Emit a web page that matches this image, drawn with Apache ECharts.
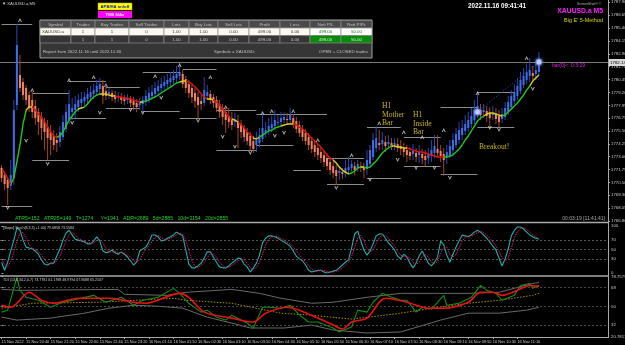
<!DOCTYPE html>
<html><head><meta charset="utf-8">
<script src="https://cdn.jsdelivr.net/npm/echarts@6/dist/echarts.min.js"></script>
<style>html,body{margin:0;padding:0;background:#000;}#c{width:625px;height:345px;}</style>
</head><body><div id="c"></div>
<script>
// ---------- DATA ----------
// Heiken-Ashi style candles: [open, close, low, high]
const candles = [
[1771.91,1770.94,1770.56,1772.20],[1771.23,1770.36,1769.78,1771.52],[1770.75,1769.98,1768.34,1770.94],[1770.17,1771.23,1769.78,1772.68],
[1770.94,1777.50,1770.27,1778.47],[1777.99,1783.78,1777.50,1785.80],[1780.88,1779.63,1779.24,1782.81],[1780.21,1778.95,1778.47,1780.59],
[1779.63,1778.47,1777.99,1779.92],[1778.95,1777.70,1777.31,1779.24],[1778.47,1777.31,1776.73,1779.24],[1777.89,1776.73,1776.06,1778.47],
[1777.31,1776.35,1775.09,1777.70],[1776.83,1775.77,1774.61,1777.31],[1776.35,1775.38,1773.64,1776.73],[1775.86,1774.80,1772.68,1776.54],
[1775.38,1774.61,1773.16,1776.06],[1775.00,1774.13,1773.64,1775.57],[1774.61,1774.32,1773.45,1775.29],[1774.42,1775.38,1773.93,1775.96],
[1774.90,1776.35,1774.61,1777.02],[1775.67,1777.31,1775.38,1778.08],[1776.54,1778.08,1776.15,1779.43],[1777.31,1777.70,1776.54,1778.66],
[1777.50,1778.08,1776.73,1778.86],[1777.79,1778.47,1777.31,1779.05],[1778.18,1778.57,1777.70,1779.24],[1778.37,1778.76,1777.89,1779.24],
[1778.57,1779.05,1778.18,1779.63],[1778.76,1779.24,1778.37,1779.82],[1779.05,1779.43,1778.57,1780.01],[1779.24,1779.82,1778.86,1780.40],
[1779.53,1780.01,1779.05,1780.59],[1779.82,1778.86,1778.08,1780.40],[1779.34,1778.86,1778.47,1779.82],[1779.05,1779.24,1778.57,1779.63],
[1779.15,1778.76,1778.37,1779.43],[1778.95,1778.57,1778.18,1779.34],[1778.76,1778.86,1778.28,1779.24],[1778.76,1778.47,1778.08,1779.15],
[1778.66,1778.37,1777.99,1778.95],[1778.47,1778.66,1778.08,1779.05],[1778.57,1778.18,1777.79,1778.86],[1778.37,1777.99,1777.50,1778.76],
[1778.18,1777.79,1777.31,1778.57],[1777.99,1778.28,1777.50,1778.66],[1778.08,1778.47,1777.22,1778.86],[1778.28,1778.86,1777.89,1779.43],
[1778.57,1779.15,1778.18,1779.72],[1778.86,1779.24,1778.47,1779.92],[1779.05,1779.63,1778.66,1780.21],[1779.34,1779.82,1778.95,1780.40],
[1779.63,1780.01,1779.15,1780.59],[1779.82,1780.21,1779.43,1780.79],[1780.01,1780.40,1779.63,1780.98],[1780.21,1780.59,1779.82,1781.17],
[1780.40,1780.79,1780.01,1781.36],[1780.59,1780.98,1780.21,1781.75],[1780.79,1781.17,1780.40,1782.04],[1780.98,1780.01,1779.63,1781.36],
[1780.50,1779.63,1779.15,1780.79],[1780.01,1779.15,1778.66,1780.40],[1779.63,1778.76,1778.18,1779.92],[1779.15,1778.37,1777.70,1779.63],
[1778.76,1777.99,1776.73,1779.24],[1778.37,1778.08,1777.50,1778.95],[1778.18,1779.43,1777.89,1780.69],[1778.86,1779.24,1778.47,1779.92],
[1779.05,1778.47,1778.08,1779.43],[1778.76,1778.18,1777.70,1779.05],[1778.47,1777.70,1777.31,1778.86],[1778.08,1777.31,1776.73,1778.47],
[1777.70,1776.83,1776.06,1778.08],[1777.31,1776.54,1775.29,1777.70],[1776.93,1776.35,1775.77,1777.70],[1776.64,1776.06,1775.57,1777.31],
[1776.35,1776.54,1775.86,1777.22],[1776.44,1775.77,1773.84,1777.02],[1776.15,1775.38,1774.80,1776.54],[1775.77,1774.90,1774.42,1776.06],
[1775.38,1774.51,1774.13,1775.77],[1775.00,1774.03,1773.64,1775.38],[1774.51,1773.74,1773.36,1775.00],[1774.13,1774.61,1773.45,1775.38],
[1774.32,1775.09,1773.93,1775.77],[1774.71,1775.77,1774.42,1777.31],[1775.29,1775.57,1774.90,1776.35],[1775.48,1775.96,1775.09,1776.73],
[1775.77,1776.15,1775.38,1776.93],[1775.96,1776.54,1775.57,1777.50],[1776.25,1776.35,1775.77,1777.02],[1776.35,1776.73,1775.96,1777.31],
[1776.54,1776.83,1776.25,1777.31],[1776.64,1776.54,1776.06,1777.22],[1776.54,1777.02,1776.15,1777.70],[1776.73,1776.15,1775.77,1777.12],
[1776.44,1775.67,1775.29,1776.83],[1776.06,1775.29,1774.90,1776.44],[1775.67,1774.90,1774.51,1776.06],[1775.29,1774.51,1774.13,1775.67],
[1774.90,1774.13,1773.64,1775.29],[1774.51,1773.74,1773.36,1774.90],[1774.13,1773.45,1772.97,1774.51],[1773.84,1773.16,1772.68,1774.22],
[1773.45,1772.87,1772.39,1773.93],[1773.16,1772.49,1772.00,1773.64],[1772.87,1772.10,1771.71,1773.36],[1772.49,1771.71,1771.23,1772.97],
[1772.10,1771.43,1770.94,1772.58],[1771.71,1771.14,1770.27,1772.20],[1771.43,1771.62,1770.75,1772.10],[1771.52,1771.33,1770.85,1771.91],
[1771.43,1771.91,1771.04,1772.68],[1771.71,1772.00,1771.33,1772.97],[1771.91,1772.29,1771.52,1772.68],[1772.10,1771.71,1771.23,1772.49],
[1771.91,1772.29,1771.52,1772.68],[1772.10,1771.91,1771.52,1772.49],[1772.00,1771.71,1770.94,1772.39],[1771.81,1772.68,1771.23,1773.64],
[1772.29,1773.64,1771.91,1774.13],[1772.97,1774.61,1772.68,1775.29],[1773.84,1774.80,1773.45,1775.96],[1774.32,1774.13,1773.64,1775.57],
[1774.22,1774.61,1773.64,1775.38],[1774.42,1774.03,1773.45,1775.00],[1774.22,1774.42,1773.84,1775.09],[1774.32,1773.93,1773.64,1774.80],
[1774.13,1774.32,1773.64,1774.80],[1774.22,1773.84,1773.45,1774.80],[1774.03,1773.74,1773.16,1774.61],[1773.84,1773.45,1772.97,1774.32],
[1773.64,1773.16,1772.49,1774.13],[1773.45,1773.07,1772.68,1773.93],[1773.26,1773.55,1772.68,1774.22],[1773.36,1772.97,1772.49,1773.84],
[1773.16,1773.45,1772.39,1774.13],[1773.26,1772.87,1772.29,1773.74],[1773.07,1772.68,1772.10,1773.64],[1772.87,1773.26,1772.29,1773.84],
[1773.07,1773.64,1772.49,1774.61],[1773.36,1774.03,1772.87,1775.09],[1773.74,1773.36,1772.87,1775.09],[1773.55,1773.07,1772.49,1774.13],
[1773.26,1772.68,1771.14,1773.84],[1772.97,1773.45,1772.29,1774.13],[1773.16,1774.03,1772.87,1774.61],[1773.64,1774.61,1773.26,1775.29],
[1774.13,1775.19,1773.84,1775.77],[1774.61,1775.57,1774.22,1776.35],[1775.09,1775.77,1774.61,1776.54],[1775.48,1776.15,1775.09,1777.02],
[1775.77,1776.54,1775.38,1777.31],[1776.15,1776.93,1775.77,1777.70],[1776.54,1777.50,1776.15,1778.47],[1777.02,1777.89,1776.73,1779.15],
[1777.50,1777.02,1776.54,1778.08],[1777.31,1777.50,1776.73,1778.08],[1777.41,1776.93,1776.35,1777.89],[1777.22,1776.73,1775.86,1777.79],
[1777.02,1777.22,1776.54,1777.89],[1777.12,1776.64,1776.15,1777.70],[1776.93,1776.35,1775.86,1777.50],[1776.64,1777.12,1776.25,1777.70],
[1776.83,1777.70,1776.54,1778.28],[1777.31,1778.28,1777.02,1778.86],[1777.79,1778.86,1777.50,1779.43],[1778.37,1779.24,1778.08,1780.01],
[1778.86,1779.82,1778.47,1780.59],[1779.34,1780.40,1779.05,1781.17],[1779.92,1780.79,1779.63,1781.56],[1780.40,1781.17,1780.01,1781.94],
[1780.79,1781.36,1780.21,1782.52],[1781.08,1780.79,1780.40,1781.75],[1780.98,1781.36,1780.40,1782.14],[1781.17,1782.14,1780.79,1783.10]
];
// Trend MA drawn over the candles
const maLine = [
1771.91,1771.43,1770.94,1770.36,1770.94,1772.49,1774.13,1776.15,1777.50,1777.79,
1777.79,1777.50,1777.12,1776.73,1776.35,1775.86,1775.38,1775.00,1774.90,1775.00,
1775.38,1775.96,1776.54,1776.93,1777.31,1777.60,1777.70,1777.79,1778.08,1778.47,
1778.76,1778.95,1779.05,1779.05,1779.05,1778.95,1778.86,1778.86,1778.76,1778.76,
1778.66,1778.66,1778.57,1778.47,1778.37,1778.28,1778.28,1778.37,1778.47,1778.66,
1778.76,1778.95,1779.15,1779.34,1779.53,1779.72,1779.92,1780.11,1780.21,1780.30,
1780.30,1780.21,1780.01,1779.72,1779.43,1779.05,1778.76,1778.57,1778.57,1778.47,
1778.28,1777.99,1777.60,1777.22,1776.83,1776.64,1776.54,1776.35,1776.06,1775.77,
1775.38,1775.09,1774.80,1774.71,1774.90,1775.09,1775.29,1775.48,1775.57,1775.77,
1775.86,1775.96,1776.06,1776.15,1776.15,1776.15,1776.06,1775.86,1775.67,1775.38,
1775.09,1774.80,1774.51,1774.22,1773.93,1773.55,1773.16,1772.87,1772.68,1772.39,
1772.00,1771.71,1771.52,1771.33,1771.43,1771.62,1771.91,1772.00,1772.00,1771.91,
1772.00,1772.29,1772.58,1772.97,1773.36,1773.64,1773.84,1774.03,1774.03,1773.93,
1773.93,1773.84,1773.84,1773.74,1773.64,1773.55,1773.45,1773.45,1773.36,1773.26,
1773.16,1773.07,1772.97,1772.97,1772.97,1772.97,1773.07,1773.16,1773.45,1773.74,
1774.13,1774.61,1775.00,1775.48,1775.96,1776.44,1776.73,1776.93,1777.12,1777.22,
1777.22,1777.12,1777.02,1776.93,1777.02,1777.31,1777.60,1777.89,1778.18,1778.57,
1778.95,1779.43,1779.82,1780.30,1780.59,1780.88];
// MA colour zones: [fromBar, toBar, state]  (up / down / flat)
const maZones = [[0,3,'dn'],[3,8,'up'],[8,10,'flat'],[10,18,'dn'],[18,25,'up'],[25,27,'flat'],[27,32,'up'],[32,37,'flat'],[37,45,'dn'],[45,46,'flat'],[46,58,'up'],[58,60,'flat'],[60,67,'dn'],[67,69,'flat'],[69,75,'dn'],[75,77,'flat'],[77,82,'dn'],[82,84,'flat'],[84,91,'up'],[91,95,'flat'],[95,108,'dn'],[108,113,'flat'],[113,117,'up'],[117,118,'flat'],[118,127,'up'],[127,132,'flat'],[132,144,'dn'],[144,157,'up'],[157,163,'flat'],[163,172,'up'],[172,176,'flat']];
// fractal levels: [fromBar, toBar, price]
const fractalLevels = [[0,10,1785.80],[0,10,1768.24],[10,22,1779.15],[10,22,1772.68],[22,34,1780.30],[22,34,1776.73],[34,45,1779.72],[34,45,1777.70],[46,58,1781.17],[59,70,1781.46],[46,58,1777.41],[58,70,1776.73],[70,83,1777.50],[70,83,1773.64],[83,106,1777.12],[83,95,1774.13],[95,104,1771.71],[106,118,1772.87],[106,118,1770.36],[119,130,1775.86],[119,130,1770.94],[131,143,1774.90],[131,143,1772.10],[143,155,1777.79],[143,155,1771.33],[155,167,1779.24],[155,167,1775.86]];
const upArrows = [[6,1786.19],[10,1779.43],[22,1780.40],[30,1780.69],[34,1779.92],[50,1780.79],[58,1781.85],[68,1780.69],[73,1777.79],[85,1777.22],[88,1777.41],[95,1777.41],[103,1774.61],[114,1773.16],[123,1776.25],[131,1775.38],[137,1774.90],[144,1775.57],[155,1779.15],[171,1782.52]];
const downArrows = [[2,1768.05],[8,1774.51],[15,1772.29],[23,1776.25],[32,1777.22],[42,1777.50],[46,1777.22],[52,1778.66],[64,1776.44],[72,1774.90],[76,1773.93],[81,1773.36],[89,1775.00],[92,1775.29],[109,1769.98],[120,1770.75],[129,1772.68],[135,1771.91],[141,1771.91],[146,1770.94],[159,1775.77],[162,1775.57],[173,1779.53]];
const currentPrice = 1782.14;
const tradeLine = [[155,1777.31],[175,1782.14]];
const priceTicks = [1766.80,1768.05,1769.30,1770.50,1771.75,1773.00,1774.25,1775.50,1776.75,1777.95,1779.20,1780.45,1781.70,1782.90,1784.15,1785.40,1786.65,1787.90];

// Stochastic panel
const stochMain = [
23,6,23,47,70,96,91,70,55,53, 51,47,40,28,19,17,21,21,36,51, 70,85,91,81,72,70,68,66,62,62,
68,77,68,47,43,45,49,43,40,45, 40,34,26,17,23,47,51,55,66,81, 81,77,68,70,74,77,81,87,83,79,
49,19,11,11,15,21,32,45,45,34, 23,13,11,11,15,21,26,32,30,19, 13,2,11,21,38,64,74,79,79,77,
74,70,66,62,57,47,36,30,26,17, 6,2,4,6,6,2,0,2,4,6, 11,17,23,28,53,83,89,68,49,38,
47,62,79,83,83,74,64,57,49,36, 30,40,34,21,11,21,36,47,34,21, 15,23,34,68,60,38,23,40,55,68,
81,79,77,81,87,91,87,81,74,66, 57,49,32,15,30,51,79,91,98,98, 94,87,81,77,74,72];
const stochSignal = [
30,18,14,25,45,68,85,86,74,60, 53,50,46,38,29,21,19,20,26,36, 52,68,82,86,81,74,70,68,65,63,
64,69,71,64,53,45,45,46,44,43, 42,38,33,26,22,29,40,51,58,67, 76,80,75,72,71,74,77,82,84,83,
70,49,26,14,12,16,23,33,41,41, 34,23,16,12,12,16,21,26,29,27, 21,11,9,11,23,41,59,72,77,78,
77,74,70,66,62,55,47,38,31,24, 16,8,4,4,5,5,3,2,2,4, 7,11,17,23,35,55,75,80,69,52,
45,49,63,75,82,80,74,65,57,47, 38,35,35,32,22,18,23,35,39,34, 23,20,24,42,54,55,40,34,39,54,
68,76,79,79,82,86,88,86,81,74, 66,57,46,32,26,32,53,74,89,95, 96,93,87,81,77,74];
const stochTicks = [0,30,50,70,100];
const stochLevels = [30,50,70];

// TDI panel: [bar, value]
const tdiRsi = [[0,44.6],[2,46.5],[5,77.8],[6,65.5],[8,58.8],[12,56.0],[16,49.3],[19,53.1],[23,56.0],[30,60.7],[34,54.1],[39,58.8],[43,51.2],[46,56.0],[51,58.8],[56,67.4],[58,62.6],[61,53.1],[65,44.6],[67,46.5],[70,39.8],[73,37.0],[75,41.7],[80,34.1],[82,29.4],[85,49.3],[87,49.3],[91,48.4],[94,51.2],[97,42.0],[100,35.1],[103,35.1],[108,29.4],[110,25.6],[114,30.4],[116,46.5],[119,44.6],[121,54.1],[124,62.6],[127,58.8],[130,56.0],[132,56.0],[135,44.6],[137,49.3],[140,47.4],[144,60.7],[145,51.2],[149,53.1],[153,58.8],[156,70.2],[158,65.5],[161,62.6],[163,56.0],[167,60.7],[169,70.2],[172,72.1],[173,67.4],[175,70.2]];
const tdiSignal = [[0,51.2],[3,49.3],[9,63.6],[13,56.0],[17,53.1],[25,57.9],[35,57.9],[43,54.1],[47,53.1],[58,62.6],[61,58.8],[66,44.6],[75,38.9],[82,35.1],[86,43.6],[93,49.3],[97,46.5],[103,38.9],[108,32.2],[111,28.4],[114,35.1],[119,38.9],[125,57.9],[132,54.1],[139,48.4],[144,48.4],[152,54.1],[156,63.6],[160,63.6],[163,60.7],[168,65.5],[172,70.2],[175,69.3]];
const tdiBase = [[0,48.4],[10,53.1],[32,54.1],[56,57.9],[60,56.0],[75,53.1],[91,43.6],[101,41.7],[114,37.9],[130,43.6],[140,48.4],[152,53.1],[162,56.0],[173,60.7],[175,62.6]];
const tdiUpper = [[0,66.4],[6,65.5],[38,66.4],[40,61.7],[54,60.7],[60,63.6],[75,66.4],[84,62.6],[91,57.9],[101,53.1],[108,54.1],[119,58.8],[130,62.6],[141,62.6],[152,62.6],[162,63.6],[173,72.1],[175,73.1]];
const tdiLower = [[0,39.8],[5,37.0],[16,38.9],[27,43.6],[35,48.4],[43,51.2],[51,50.3],[59,48.4],[67,39.8],[75,34.1],[81,29.4],[92,29.4],[101,32.2],[108,27.5],[119,24.6],[130,25.6],[143,37.0],[152,43.6],[162,43.6],[171,46.5],[175,49.3]];
const tdiTicks = [20.7813,32,50,68,78.7579];
const tdiLevels = [32,50,68];

// time axis labels: [bar, text]
const timeLabels = [[0,'15 Nov 2022'],[8,'15 Nov 20:40'],[16,'15 Nov 21:20'],[24,'15 Nov 22:00'],[32,'15 Nov 22:40'],[40,'15 Nov 23:20'],[48,'16 Nov 01:10'],[56,'16 Nov 01:50'],[64,'16 Nov 02:30'],[72,'16 Nov 03:10'],[80,'16 Nov 03:50'],[88,'16 Nov 04:30'],[96,'16 Nov 05:10'],[104,'16 Nov 05:50'],[112,'16 Nov 06:30'],[120,'16 Nov 07:10'],[128,'16 Nov 07:50'],[136,'16 Nov 08:30'],[144,'16 Nov 09:10'],[152,'16 Nov 09:50'],[160,'16 Nov 10:30'],[168,'16 Nov 11:10']];

// trade report table
const tableHead = ['Symbol','Trades','Buy Trades','Sell Trades','Lots','Buy Lots','Sell Lots','Profit','Loss','Nett P/L','Nett PIPs'];
const tableRow1 = ['XAUUSD.a','1','1','0','1.00','1.00','0.00','499.00','0.00','499.00','50.00'];
const tableRow2 = ['','1','1','0','1.00','1.00','0.00','499.00','0.00','499.00','50.00'];

// ---------- CHART ----------
const N_SLOTS = 198;
const FONT = 'Liberation Sans, Arial, sans-serif';
const AXC = '#c8c8c8';
const zoneColor = {up:'#1ec81e', dn:'#e01010', flat:'#d8d020'};
const chart = echarts.init(document.getElementById('c'), null, {renderer:'canvas'});

function renderCandle(params, api) {
  const i = api.value(0), o = api.value(1), c = api.value(2), l = api.value(3), h = api.value(4);
  const po = api.coord([i, o]), pc = api.coord([i, c]), pl = api.coord([i, l]), ph = api.coord([i, h]);
  const bw = Math.max(1, api.size([1, 0])[0] * 0.66);
  const x = po[0];
  const up = c >= o;
  const top = Math.min(po[1], pc[1]);
  const ht = Math.max(1, Math.abs(po[1] - pc[1]));
  return {type:'group', children:[
    {type:'line', shape:{x1:x, y1:ph[1], x2:x, y2:pl[1]}, style:{stroke: up ? '#2a48b0' : '#a04628', lineWidth:1}},
    {type:'rect', shape:{x:x - bw/2, y:top, width:bw, height:ht}, style:{fill: up ? '#3e6ee8' : '#f2805c'}}
  ]};
}
function renderLevel(params, api) {
  const a = api.coord([api.value(0), api.value(2)]);
  const b = api.coord([api.value(1), api.value(2)]);
  return {type:'line', shape:{x1:a[0], y1:Math.round(a[1])+0.5, x2:b[0], y2:Math.round(a[1])+0.5}, style:{stroke:'#8c8c8c', lineWidth:1}};
}
function renderPriceLine(params, api) {
  const p = api.coord([0, api.value(0)]);
  const y = Math.round(p[1]) + 0.5;
  const cs = params.coordSys;
  return {type:'group', children:[
    {type:'line', shape:{x1:cs.x, y1:y, x2:cs.x + cs.width, y2:y}, style:{stroke:'#7a7a7a', lineWidth:1}},
    {type:'rect', shape:{x:cs.x + cs.width + 1, y:y - 3.5, width:16, height:7}, style:{fill:'#d8d8d8'}},
    {type:'text', style:{text: api.value(0).toFixed(2), x:cs.x + cs.width + 2, y:y, fill:'#000', fontSize:4.4, fontFamily:FONT, textVerticalAlign:'middle'}}
  ]};
}

const slotNames = Array.from({length:N_SLOTS}, (_, i) => String(i));
const timeMap = Object.fromEntries(timeLabels);

const graphics = [];
// panel separators and axis border
graphics.push({type:'line', shape:{x1:0, y1:222.5, x2:608, y2:222.5}, style:{stroke:'#a8a8a8', lineWidth:1.5}});
graphics.push({type:'line', shape:{x1:0, y1:276, x2:608, y2:276}, style:{stroke:'#a8a8a8', lineWidth:1.5}});
graphics.push({type:'line', shape:{x1:0, y1:337.5, x2:608, y2:337.5}, style:{stroke:'#a8a8a8', lineWidth:1}});
graphics.push({type:'line', shape:{x1:608.5, y1:0, x2:608.5, y2:338}, style:{stroke:'#a8a8a8', lineWidth:1}});
// texts
const T = (text, x, y, fill, size, extra) => graphics.push({type:'text', z:100, style:Object.assign({text, x, y, fill, fontSize:size, fontFamily:FONT, textVerticalAlign:'middle'}, extra||{})});
T('\u25BC XAUUSD.a,M5', 2, 4, '#d0d0d0', 4.2);
T('2022.11.16 09:41:41', 468, 6, '#ffffff', 6.3, {fontWeight:'bold'});
T('ScreenShot\u00AE \u00A9', 577, 4, '#b0b0b0', 3.5);
T('XAUUSD.a M5', 603, 11, '#ff20ff', 6.8, {fontWeight:'bold', textAlign:'right'});
T("Big E' 5-Method", 603, 20, '#d8d800', 5.5, {textAlign:'right'});
T('bar(0)<  0:3:19', 552, 66, '#e020e0', 5);
T('ATR5=152   ATR25=149   T=1274     Y=1941   ADR=2689   5d=2885   10d=3154   20d=2855', 15, 219, '#20d020', 5.2);
T('00:03:19 [11:41:41]', 605, 219, '#a8a8a8', 5, {textAlign:'right'});
T('[Slope] Stoch(8,3,3) +1.00) 79.6858 73.5584', 3, 228, '#d0d0d0', 3.6);
T('TDI (13,0,34,2,0,7) 73.7781 61.1788 48.9794 67.9688 65.2107', 3, 280, '#d0d0d0', 3.6);
// chart notes
const SERIF = 'Liberation Serif, DejaVu Serif, serif';
const NOTE = '#c8b418';
[['H1',382,106],['Mother',382,114.5],['Bar',382,123],['H1',413,115],['Inside',413,123.5],['Bar',413,132],['Breakout!',479,147]].forEach(n =>
  graphics.push({type:'text', z:100, style:{text:n[0], x:n[1], y:n[2], fill:NOTE, fontSize:7.6, fontFamily:SERIF, textVerticalAlign:'middle'}}));
// buttons
graphics.push({type:'rect', z:100, shape:{x:98, y:3, width:34, height:7}, style:{fill:'#ffff00', stroke:'#b0b000', lineWidth:0.5}});
T('APB/HA on/off', 115, 6.5, '#1010c0', 4.2, {textAlign:'center', fontWeight:'bold'});
graphics.push({type:'rect', z:100, shape:{x:98, y:11, width:34, height:7}, style:{fill:'#ff00ff'}});
T('TMS MAs', 115, 14.5, '#ffe8ff', 4.2, {textAlign:'center', fontWeight:'bold'});
// report table
const cols = [40,71,95,129,164,189,218,249,280,310,341,372];
graphics.push({type:'rect', z:99, shape:{x:40, y:20, width:332, height:38}, style:{fill:'#363636', stroke:'#a0a0a0', lineWidth:1}});
const rowsY = [20.5, 28, 35.5];
[tableHead, tableRow1, tableRow2].forEach((row, r) => {
  row.forEach((txt, c) => {
    const x0 = cols[c], w = cols[c+1] - cols[c];
    const nett = c >= 9;
    let fill = r === 0 ? '#4a4a4a' : (r === 1 ? '#fbf8ee' : '#363636');
    let tc = r === 0 ? '#c0c0c0' : (r === 1 ? '#404040' : '#c0c0c0');
    if (r === 1 && nett) { fill = '#ffffff'; tc = '#108010'; }
    if (r === 2 && nett) { fill = '#0a8a0a'; tc = '#d0f0d0'; }
    graphics.push({type:'rect', z:100, shape:{x:x0, y:rowsY[r], width:w, height:7.5}, style:{fill, stroke:'#8a8a8a', lineWidth:0.7}});
    const left = (r === 1 && c === 0);
    graphics.push({type:'text', z:101, style:{text:txt, x: left ? x0 + 2 : x0 + w/2, y: rowsY[r] + 3.9, fill: tc, fontSize:4.4, fontFamily:FONT, textAlign: left ? 'left' : 'center', textVerticalAlign:'middle'}});
  });
});
T('Report from 2022.11.16 until 2022.11.30', 43, 51.5, '#c0c0c0', 4.4);
T('Symbols = XAUUSD;', 214, 51.5, '#c0c0c0', 4.4);
T('OPEN + CLOSED trades', 368, 51.5, '#c0c0c0', 4.4, {textAlign:'right'});

const levelLine = (vals) => vals.map(v => ({yAxis: v}));
const option = {
  backgroundColor: '#000000',
  animation: false,
  grid: [
    {left:0, top:0, width:608, height:222, outerBoundsMode:'none'},
    {left:0, top:226, width:608, height:47, outerBoundsMode:'none'},
    {left:0, top:276.5, width:608, height:60.5, outerBoundsMode:'none'}
  ],
  xAxis: [
    {type:'category', gridIndex:0, data:slotNames, boundaryGap:true, axisLine:{show:false}, axisTick:{show:false}, axisLabel:{show:false}, splitLine:{show:false}},
    {type:'value', gridIndex:1, min:-0.5, max:N_SLOTS-0.5, axisLine:{show:false}, axisTick:{show:false}, axisLabel:{show:false}, splitLine:{show:false}},
    {type:'value', gridIndex:2, min:-0.5, max:N_SLOTS-0.5, position:'bottom',
      axisLine:{show:false},
      axisTick:{show:true, customValues: timeLabels.map(t => t[0]), length:2, lineStyle:{color:'#a8a8a8'}},
      axisLabel:{show:true, customValues: timeLabels.map(t => t[0]), formatter: v => timeMap[Math.round(v)] || '', color:AXC, fontSize:3.9, fontFamily:FONT, align:'left', margin:2.5, showMinLabel:true, showMaxLabel:true, hideOverlap:false},
      splitLine:{show:false}}
  ],
  yAxis: [
    {type:'value', gridIndex:0, position:'right', min:1766.70, max:1788.12, scale:true,
      axisLine:{show:false}, axisTick:{show:true, customValues:priceTicks, length:2, lineStyle:{color:'#a8a8a8'}},
      axisLabel:{customValues:priceTicks, formatter: v => v.toFixed(2), color:AXC, fontSize:4.3, fontFamily:FONT, margin:3, showMinLabel:true, showMaxLabel:true},
      splitLine:{show:false}},
    {type:'value', gridIndex:1, position:'right', min:0, max:100,
      axisLine:{show:false}, axisTick:{show:true, customValues:stochTicks, length:2, lineStyle:{color:'#a8a8a8'}},
      axisLabel:{customValues:stochTicks, formatter: v => String(v), color:AXC, fontSize:4.3, fontFamily:FONT, margin:3, showMinLabel:true, showMaxLabel:true},
      splitLine:{show:false}},
    {type:'value', gridIndex:2, position:'right', min:20.7813, max:78.7579,
      axisLine:{show:false}, axisTick:{show:true, customValues:tdiTicks, length:2, lineStyle:{color:'#a8a8a8'}},
      axisLabel:{customValues:tdiTicks, formatter: v => String(v), color:AXC, fontSize:4.3, fontFamily:FONT, margin:3, showMinLabel:true, showMaxLabel:true},
      splitLine:{show:false}}
  ],
  visualMap: [{
    show:false, type:'piecewise', seriesIndex:2, dimension:0,
    pieces: maZones.map(z => ({gte:z[0], lt:z[1], color: zoneColor[z[2]]})),
    outOfRange:{color:'#d8d020'}
  }],
  series: [
    {type:'custom', name:'levels', xAxisIndex:0, yAxisIndex:0, renderItem:renderLevel, data:fractalLevels, z:2, silent:true},
    {type:'custom', name:'candles', xAxisIndex:0, yAxisIndex:0, renderItem:renderCandle,
      data: candles.map((r, i) => [i, r[0], r[1], r[2], r[3]]), encode:{x:0, y:[1,2,3,4]}, z:3, silent:true},
    {type:'line', name:'MA', xAxisIndex:0, yAxisIndex:0, data:maLine, symbol:'none', lineStyle:{width:1.4}, z:4, silent:true},
    {type:'custom', name:'price', xAxisIndex:0, yAxisIndex:0, renderItem:renderPriceLine, data:[[currentPrice]], z:1, silent:true},
    {type:'line', name:'trade', xAxisIndex:0, yAxisIndex:0, data:tradeLine, symbol:'none', lineStyle:{color:'#3050d0', width:1, type:[1,2]}, z:5, silent:true},
    {type:'scatter', name:'trade pts', xAxisIndex:0, yAxisIndex:0, data:tradeLine, symbol:'circle', symbolSize:6,
      itemStyle:{color:'#e8ecff', borderColor:'#6080ff', borderWidth:1, shadowBlur:3, shadowColor:'#8fa8ff'}, z:6, silent:true},
    {type:'scatter', name:'upFr', xAxisIndex:0, yAxisIndex:0, data:upArrows, symbol:'path://M0,10L5,0L10,10L7.5,10L5,5L2.5,10Z', symbolSize:[4,4], itemStyle:{color:'#d8d8d8'}, z:6, silent:true},
    {type:'scatter', name:'dnFr', xAxisIndex:0, yAxisIndex:0, data:downArrows, symbol:'path://M0,0L5,10L10,0L7.5,0L5,5L2.5,0Z', symbolSize:[4,4], itemStyle:{color:'#d8d8d8'}, z:6, silent:true},
    // stochastic
    {type:'line', name:'stoch', xAxisIndex:1, yAxisIndex:1, data: stochMain.map((v, i) => [i, v]), symbol:'none', lineStyle:{color:'#20b0a8', width:1.1}, z:3, silent:true,
      markLine:{silent:true, symbol:'none', label:{show:false}, lineStyle:{color:'#6a6a6a', type:[2,2], width:0.8}, data: levelLine(stochLevels)}},
    {type:'line', name:'stochSig', xAxisIndex:1, yAxisIndex:1, data: stochSignal.map((v, i) => [i, v]), symbol:'none', lineStyle:{color:'#d81870', width:1, type:[1.5,1]}, z:4, silent:true},
    // TDI
    {type:'line', name:'upper', xAxisIndex:2, yAxisIndex:2, data:tdiUpper, symbol:'none', lineStyle:{color:'#6a6a6a', width:1}, z:2, silent:true,
      markLine:{silent:true, symbol:'none', label:{show:false}, lineStyle:{color:'#5a5a5a', type:[2,2], width:0.8}, data: levelLine(tdiLevels)}},
    {type:'line', name:'lower', xAxisIndex:2, yAxisIndex:2, data:tdiLower, symbol:'none', lineStyle:{color:'#6a6a6a', width:1}, z:2, silent:true},
    {type:'line', name:'base', xAxisIndex:2, yAxisIndex:2, data:tdiBase, symbol:'none', lineStyle:{color:'#a89000', width:1, type:[1.5,1.5]}, z:3, silent:true},
    {type:'line', name:'rsi', xAxisIndex:2, yAxisIndex:2, data:tdiRsi, symbol:'none', lineStyle:{color:'#109010', width:1.1}, z:4, silent:true},
    {type:'line', name:'sig', xAxisIndex:2, yAxisIndex:2, data:tdiSignal, symbol:'none', smooth:0.3, lineStyle:{color:'#f01010', width:1.6}, z:5, silent:true}
  ],
  graphic: graphics
};
chart.setOption(option);
</script>
</body></html>
